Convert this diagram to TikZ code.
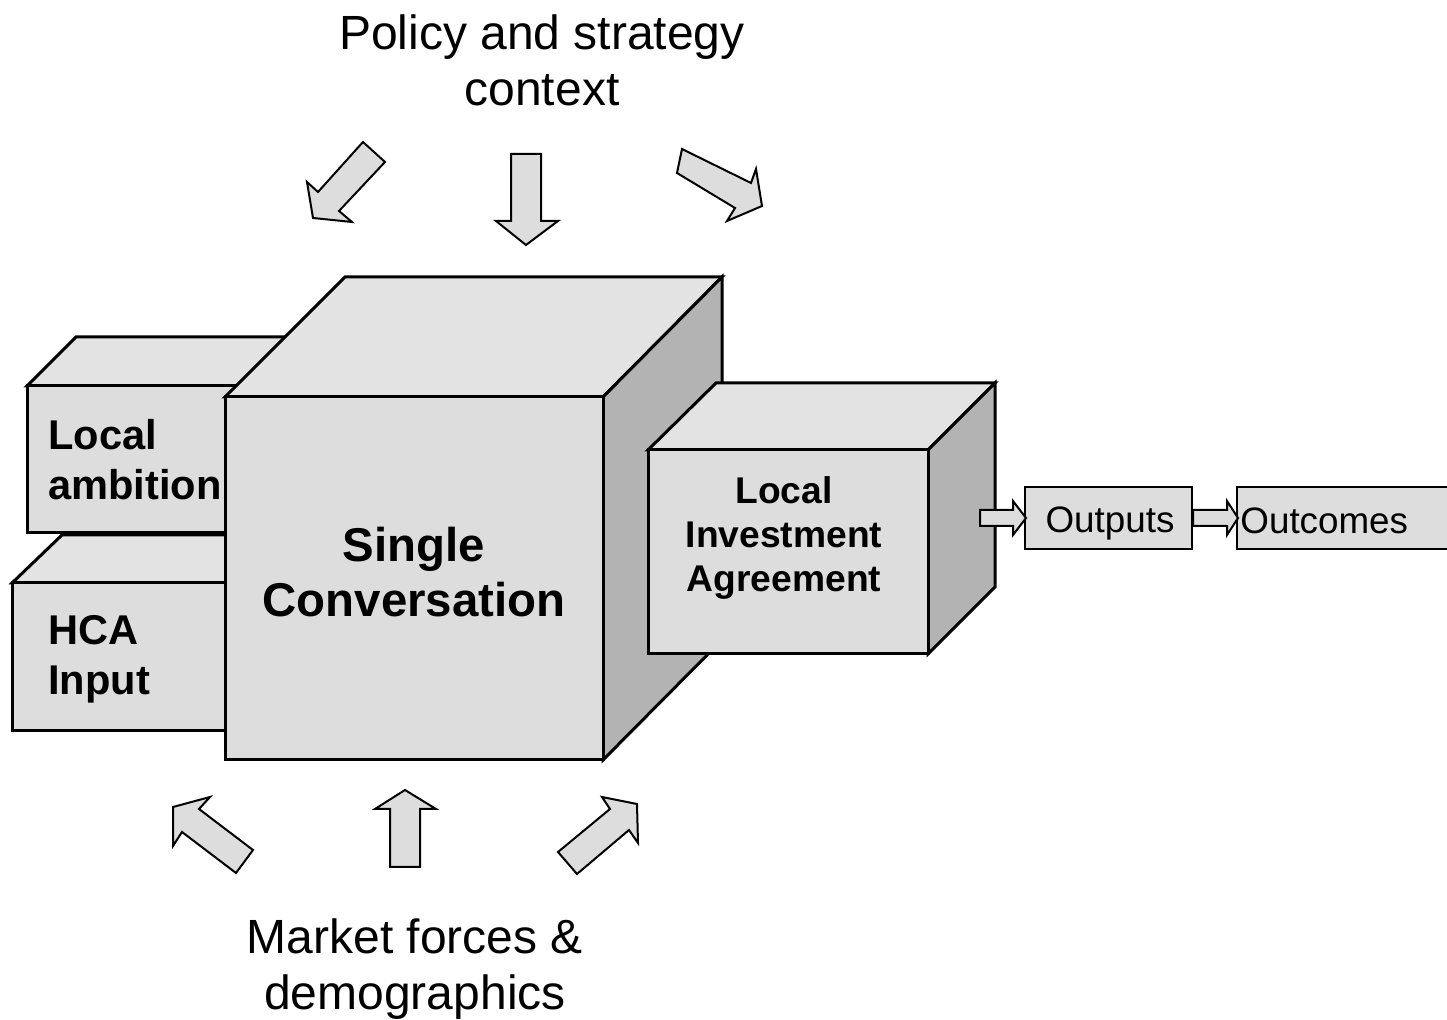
\documentclass[tikz,border=0pt]{standalone}
\usepackage{fontspec}
\setmainfont{Liberation Sans}
\definecolor{frontgray}{HTML}{DDDDDD}
\definecolor{topgray}{HTML}{E3E3E3}
\definecolor{sidegray}{HTML}{B3B3B3}
\tikzset{
  face/.style={draw=black, line width=1.5pt, line join=miter},
  frontface/.style={face, fill=frontgray},
  topface/.style={face, fill=topgray},
  sideface/.style={face, fill=sidegray},
  blockarrow/.style={draw=black, line width=1pt, fill=frontgray, line join=miter},
  smallbox/.style={draw=black, line width=1.2pt, fill=frontgray},
  boldtxt/.style={font=\bfseries\fontsize{20.8}{25}\selectfont, align=left, inner sep=0pt},
  bigtxt/.style={font=\fontsize{24}{28}\selectfont, align=center, inner sep=0pt},
}
\begin{document}
\begin{tikzpicture}[x=0.5pt,y=-0.5pt]
\useasboundingbox (0,0) rectangle (1447,1020);

% HCA box
\path[topface] (12,583) -- (62,535) -- (280,535) -- (230,583) -- cycle;
\path[frontface] (12,583) rectangle (230,731);
% Local ambition box
\path[topface] (27,386) -- (76,337) -- (289,337) -- (240,386) -- cycle;
\path[sideface] (240,386) -- (289,337) -- (289,484) -- (240,533) -- cycle;
\path[frontface] (27,386) rectangle (240,533);
% main cube
\path[topface] (225,397) -- (345,277) -- (722,277) -- (603,397) -- cycle;
\path[sideface] (603,397) -- (722,277) -- (722,640) -- (603,760) -- cycle;
\path[frontface] (225,397) rectangle (603,760);
% Local Investment Agreement cube
\path[topface] (648,450) -- (716,383) -- (995,383) -- (928,450) -- cycle;
\path[sideface] (928,450) -- (995,383) -- (995,587) -- (928,654) -- cycle;
\path[frontface] (648,450) rectangle (928,654);

% texts on boxes
\node[boldtxt, anchor=west] (amb) at (48,460) {Local\\ambition};
\node[boldtxt, anchor=west] (hca) at (48,659) {HCA\\Input};
\node[font=\bfseries\fontsize{23.7}{27.5}\selectfont, align=center, inner sep=0pt] (single) at (414,572) {Single\\Conversation};
\node[font=\bfseries\fontsize{18.6}{22.2}\selectfont, align=center, inner sep=0pt] (lia) at (784,538) {Local\\Investment\\Agreement};

% outputs and outcomes
\path[smallbox] (1025,487) rectangle (1192,549);
\node[font=\fontsize{18.4}{22}\selectfont, inner sep=0pt] (outputs) at (1110,523) {Outputs};
\path[smallbox] (1237,487) rectangle (1470,549);
\node[font=\fontsize{18.4}{22}\selectfont, inner sep=0pt, anchor=west] (outcomes) at (1240,521) {Outcomes};
\path[blockarrow] (980,510) -- (1013,510) -- (1013,501) -- (1026,518) -- (1013,535) -- (1013,526) -- (980,526) -- cycle;
\path[blockarrow] (1193,510) -- (1227,510) -- (1227,501) -- (1238,518) -- (1227,535) -- (1227,526) -- (1193,526) -- cycle;

% top labels and arrows
\node[bigtxt] (policy) at (542,60) {Policy and strategy\\context};
\path[blockarrow] (363,142) -- (385,162) -- (339,211) -- (352,222) -- (313,218) -- (307,182) -- (318,192) -- cycle;
\path[blockarrow] (511,154) -- (541,154) -- (541,221) -- (558,221) -- (526,245) -- (496,221) -- (511,221) -- cycle;
\path[blockarrow] (682,149) -- (751,183) -- (756,169) -- (762,206) -- (727,221) -- (735,208) -- (677,173) -- cycle;

% bottom labels and arrows
\node[bigtxt] (market) at (415,969) {Market forces \&\\demographics};
\path[blockarrow] (173,807) -- (210,797) -- (199,809) -- (253,850) -- (236,873) -- (182,832) -- (173,846) -- cycle;
\path[blockarrow] (405,790) -- (436,809) -- (420,809) -- (420,867) -- (390,867) -- (390,809) -- (375,809) -- cycle;
\path[blockarrow] (637,804) -- (602,797) -- (610,809) -- (558,852) -- (577,874) -- (629,830) -- (638,843) -- cycle;
\end{tikzpicture}
\end{document}
